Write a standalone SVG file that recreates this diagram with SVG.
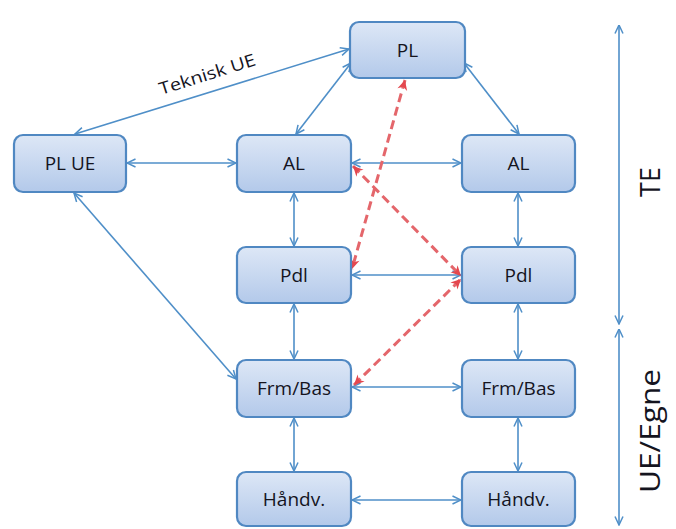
<svg xmlns="http://www.w3.org/2000/svg" width="676" height="529" viewBox="0 0 676 529">
  <defs>
    <linearGradient id="nodeFill" x1="0" y1="0" x2="0" y2="1">
      <stop offset="0" stop-color="#dde7f6"/>
      <stop offset="1" stop-color="#b3c9ea"/>
    </linearGradient>
    <marker id="arrB" viewBox="0 0 10 10" refX="9.5" refY="5" markerWidth="10" markerHeight="10" markerUnits="userSpaceOnUse" orient="auto-start-reverse">
      <path d="M1,1 L9.5,5 L1,9" fill="none" stroke="#4f8fc8" stroke-width="1.5"/>
    </marker>
    <marker id="arrR" viewBox="0 0 12 12" refX="11" refY="6" markerWidth="12" markerHeight="12" markerUnits="userSpaceOnUse" orient="auto-start-reverse">
      <path d="M1,1 L11,6 L1,11 L4,6 Z" fill="#e4484f"/>
    </marker>
  </defs>
  <style>
    .node rect { stroke: #5088c2; stroke-width: 2.2; }
    .node text { font-family: "Open Sans", "Liberation Sans", sans-serif; font-size: 19px; fill: #14141e; text-anchor: middle; }
    .conn { stroke: #4f8fc8; stroke-width: 1.6; fill: none; marker-start: url(#arrB); marker-end: url(#arrB); }
    .red { stroke: #e4666b; stroke-width: 3; stroke-dasharray: 9 5; fill: none; marker-start: url(#arrR); marker-end: url(#arrR); }
    .lbl { font-family: "Open Sans", "Liberation Sans", sans-serif; fill: #14141e; }
  </style>
  <rect width="676" height="529" fill="#ffffff"/>

  <g id="connectors">
    <line class="conn" x1="75" y1="134" x2="349" y2="49"/>
    <line class="conn" x1="127" y1="163" x2="236" y2="163"/>
    <line class="conn" x1="74" y1="193" x2="236" y2="379"/>
    <line class="conn" x1="351" y1="63" x2="296" y2="134"/>
    <line class="conn" x1="464" y1="63" x2="519" y2="134"/>
    <line class="conn" x1="352" y1="163" x2="461" y2="163"/>
    <line class="conn" x1="294" y1="193" x2="294" y2="246"/>
    <line class="conn" x1="518" y1="193" x2="518" y2="246"/>
    <line class="conn" x1="352" y1="275" x2="461" y2="275"/>
    <line class="conn" x1="294" y1="304" x2="294" y2="359"/>
    <line class="conn" x1="518" y1="304" x2="518" y2="359"/>
    <line class="conn" x1="352" y1="387" x2="461" y2="387"/>
    <line class="conn" x1="294" y1="418" x2="294" y2="471"/>
    <line class="conn" x1="518" y1="418" x2="518" y2="471"/>
    <line class="conn" x1="352" y1="500" x2="461" y2="500"/>
    <line class="red" x1="405" y1="80" x2="352" y2="269"/>
    <line class="red" x1="353" y1="166" x2="461" y2="276"/>
    <line class="red" x1="354" y1="385" x2="461" y2="279"/>
    <text class="lbl" font-size="17" x="209" y="80" text-anchor="middle" textLength="100" lengthAdjust="spacingAndGlyphs" transform="rotate(-17.5 209 80)">Teknisk UE</text>
  </g>

  <g id="node-pl" class="node"><rect x="350" y="22" width="115" height="56" rx="9" fill="url(#nodeFill)"/><text x="407.5" y="57">PL</text></g>
  <g id="node-pl-ue" class="node"><rect x="14" y="135" width="112" height="57" rx="9" fill="url(#nodeFill)"/><text x="70" y="170">PL UE</text></g>
  <g id="node-al-left" class="node"><rect x="237" y="135" width="114" height="57" rx="9" fill="url(#nodeFill)"/><text x="294" y="170">AL</text></g>
  <g id="node-al-right" class="node"><rect x="462" y="135" width="113" height="57" rx="9" fill="url(#nodeFill)"/><text x="518.5" y="170">AL</text></g>
  <g id="node-pdl-left" class="node"><rect x="237" y="247" width="114" height="56" rx="9" fill="url(#nodeFill)"/><text x="294" y="282">Pdl</text></g>
  <g id="node-pdl-right" class="node"><rect x="462" y="247" width="113" height="56" rx="9" fill="url(#nodeFill)"/><text x="518.5" y="282">Pdl</text></g>
  <g id="node-frm-left" class="node"><rect x="237" y="360" width="114" height="57" rx="9" fill="url(#nodeFill)"/><text x="294" y="395">Frm/Bas</text></g>
  <g id="node-frm-right" class="node"><rect x="462" y="360" width="113" height="57" rx="9" fill="url(#nodeFill)"/><text x="518.5" y="395">Frm/Bas</text></g>
  <g id="node-handv-left" class="node"><rect x="237" y="472" width="114" height="54" rx="9" fill="url(#nodeFill)"/><text x="294" y="506">Håndv.</text></g>
  <g id="node-handv-right" class="node"><rect x="462" y="472" width="113" height="54" rx="9" fill="url(#nodeFill)"/><text x="518.5" y="506">Håndv.</text></g>

  <g id="scale">
    <line class="conn" x1="619" y1="25" x2="619" y2="324"/>
    <line class="conn" x1="619" y1="329" x2="619" y2="525"/>
    <text class="lbl" font-size="27" text-anchor="middle" transform="translate(660 182) rotate(-90)">TE</text>
    <text class="lbl" font-size="27" text-anchor="middle" textLength="124" lengthAdjust="spacingAndGlyphs" transform="translate(660 431) rotate(-90)">UE/Egne</text>
  </g>
</svg>
